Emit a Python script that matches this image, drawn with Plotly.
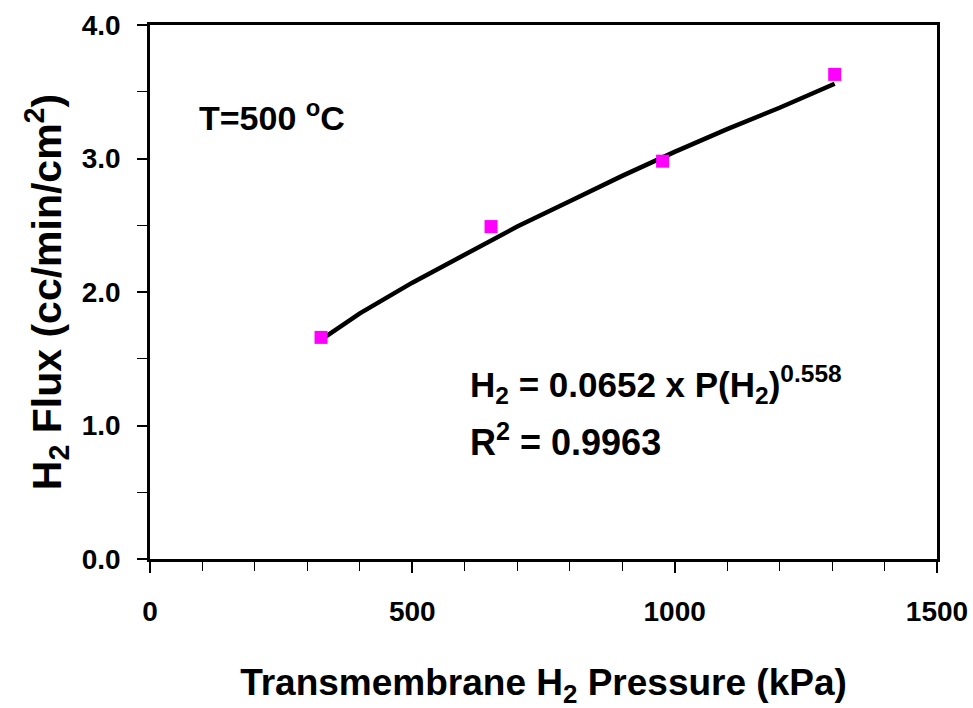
import plotly.graph_objects as go

pressure_kpa = [326, 650, 977, 1305]
flux = [1.66, 2.49, 2.98, 3.63]

# Trend line (power fit) points
fit_x = [325, 400, 500, 600, 700, 800, 900, 1000, 1100, 1200, 1305]
fit_y = [1.64, 1.84, 2.07, 2.28, 2.49, 2.68, 2.87, 3.05, 3.22, 3.38, 3.56]

x_ticks = [0, 500, 1000, 1500]
y_ticks = [0, 1, 2, 3, 4]

FONT = "Liberation Sans, Arial, sans-serif"

fig = go.Figure()
fig.add_trace(go.Scatter(x=fit_x, y=fit_y, mode="lines",
                         line=dict(color="black", width=4.5), showlegend=False))
fig.add_trace(go.Scatter(x=pressure_kpa, y=flux, mode="markers",
                         marker=dict(symbol="square", size=13, color="#FF00FF"),
                         showlegend=False))

fig.add_annotation(x=90, y=3.32, xref="x", yref="y", xanchor="left", yanchor="middle",
                   text="T=500 <sup>o</sup>C", showarrow=False,
                   font=dict(family=FONT, size=34, color="black", weight="bold"))
fig.add_annotation(x=606, y=1.31, xref="x", yref="y", xanchor="left", yanchor="middle",
                   text="H<sub>2</sub> = 0.0652 x P(H<sub>2</sub>)<sup>0.558</sup>", showarrow=False,
                   font=dict(family=FONT, size=35, color="black", weight="bold"))
fig.add_annotation(x=606, y=0.895, xref="x", yref="y", xanchor="left", yanchor="middle",
                   text="R<sup>2</sup> = 0.9963", showarrow=False,
                   font=dict(family=FONT, size=36, color="black", weight="bold"))

fig.update_layout(
    width=973, height=708,
    margin=dict(l=150, r=36, t=25, b=149),
    plot_bgcolor="white", paper_bgcolor="white",
    font=dict(family=FONT, color="black"),
    xaxis=dict(range=[0, 1500], tickvals=x_ticks, ticks="outside", ticklen=11, tickwidth=1.5,
               tickcolor="black", showline=True, linecolor="black", linewidth=2.5, mirror=True,
               showgrid=False, zeroline=False, ticklabelstandoff=15, automargin=False,
               tickfont=dict(family=FONT, size=28, weight="bold"),
               minor=dict(dtick=100, ticks="outside", ticklen=9, tickwidth=1.2, tickcolor="black"),
               title=dict(text="Transmembrane H<sub>2</sub> Pressure (kPa)", standoff=44,
                          font=dict(family=FONT, size=37, weight="bold"))),
    yaxis=dict(range=[0, 4], tickvals=y_ticks, tickformat=".1f", ticks="outside", ticklen=10,
               tickwidth=1.5, tickcolor="black", showline=True, linecolor="black", linewidth=2.5,
               mirror=True, showgrid=False, zeroline=False, ticklabelstandoff=11, automargin=False,
               tickfont=dict(family=FONT, size=28, weight="bold"),
               minor=dict(dtick=0.5, ticks="outside", ticklen=10, tickwidth=1.2, tickcolor="black"),
               title=dict(text="H<sub>2</sub> Flux (cc/min/cm<sup>2</sup>)", standoff=8,
                          font=dict(family=FONT, size=41, weight="bold"))),
)

fig.write_html("out.html")
